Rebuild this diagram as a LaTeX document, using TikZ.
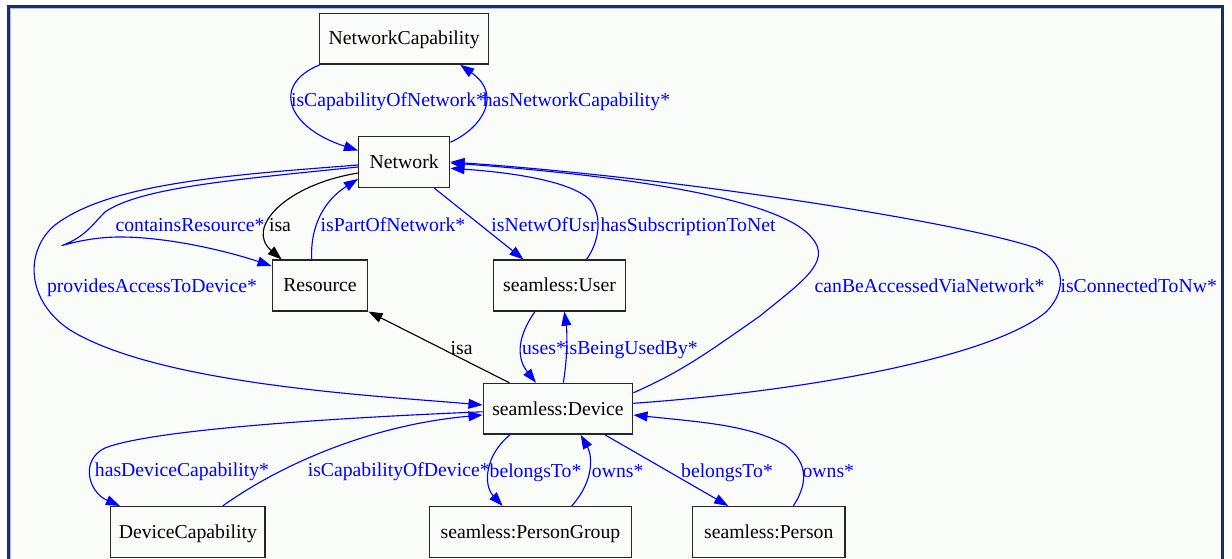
\documentclass[tikz,border=0pt]{standalone}
\usepackage{fontspec}
\setmainfont{Liberation Serif}
\usetikzlibrary{arrows.meta,calc}
\definecolor{framec}{RGB}{25,45,110}
\definecolor{bgc}{RGB}{250,252,250}
\definecolor{edgeblue}{RGB}{0,0,255}
\definecolor{innerln}{RGB}{170,190,225}
\tikzset{
  box/.style={draw=black!85, line width=1pt, inner sep=0pt, minimum height=36pt,
    text height=8.94pt, text depth=0pt, font=\fontsize{14}{16}\selectfont},
  lbl/.style={inner sep=0pt, anchor=base, font=\fontsize{14}{16}\selectfont, text=edgeblue},
  blk/.style={lbl, text=black},
  rel/.style={draw=edgeblue, line width=0.8pt, -{Triangle[length=10pt,width=7pt]}},
  isarel/.style={draw=black, line width=0.8pt, -{Triangle[length=10pt,width=7pt]}},
}
\begin{document}
\begin{tikzpicture}[x=0.71pt,y=-0.71pt]
\useasboundingbox (0,0) rectangle (1232,559);
\begin{scope}
  \clip (0,0) rectangle (1232,559);
  \fill[white] (0,0) rectangle (1232,559);
  \fill[bgc] (8.7,6.3) rectangle (1222.3,600);
  \draw[innerln, line width=0.7pt] (10.9,600) -- (10.9,8.5) -- (1220,8.5);
  \draw[framec, line width=1.9pt] (8.7,600) -- (8.7,6.3) -- (1222.3,6.3) -- (1222.3,600);
\end{scope}

% nodes
\node[box, minimum width=120pt]   (nc)  at (404.2,38.7) {NetworkCapability};
\node[box, minimum width=64.6pt]  (net) at (404.2,162)  {Network};
\node[box, minimum width=67.8pt]  (res) at (320,285.5)  {Resource};
\node[box, minimum width=94pt]    (usr) at (559.5,285.5) {seamless:User};
\node[box, minimum width=106.1pt] (dev) at (558,408.8)  {seamless:Device};
\node[box, minimum width=109.6pt] (dc)  at (187.85,532) {DeviceCapability};
\node[box, minimum width=143.6pt] (pg)  at (530.5,532)  {seamless:PersonGroup};
\node[box, minimum width=108.4pt] (per) at (768.8,532)  {seamless:Person};

% edges
\draw[rel] ($(nc.south west)+(1,0)$) .. controls (270,85) and (288,128) .. ($(net.west)+(0,-11.5)$);
\draw[rel] ($(net.north east)+(0,6.3)$) .. controls (482,128) and (503,95) .. ($(nc.south)+(56,0)$);
\draw[isarel] ($(net.west)+(0,11)$) .. controls (285,185) and (245,228) .. ($(res.north)+(-38.3,0)$);
\draw[rel] ($(res.north)+(-8.3,0)$) .. controls (310,225) and (325,200) .. ($(net.west)+(0,17)$);
\draw[rel] ($(net.south)+(30,0)$) -- ($(usr.north)+(-36,0)$);
\draw[rel] ($(usr.north)+(27,0)$) .. controls (597,245) and (604,220) .. (591,201)
  .. controls (572,180) and (505,172) .. ($(net.east)+(0,6.3)$);
\draw[rel, line join=round] ($(net.west)+(0,5)$) .. controls (230,180) and (140,188) .. (105,212)
  .. controls (92,225) and (85,237) .. (62,245.5)
  .. controls (75,242) and (95,237) .. (120,237)
  .. controls (170,237) and (230,252) .. ($(res.west)+(0,-19.5)$);
\draw[rel] ($(net.west)+(0,3)$) .. controls (230,175) and (110,183) .. (55,225)
  .. controls (25,250) and (25,300) .. (70,330)
  .. controls (160,385) and (380,396) .. ($(dev.west)+(0,-3.8)$);
\draw[rel] ($(dev.east)+(0,-16)$) .. controls (680,372) and (700,358) .. (760,316)
  .. controls (800,283) and (833,262) .. (812,238)
  .. controls (788,207) and (680,180) .. ($(net.east)+(0,1)$);
\draw[rel] ($(dev.east)+(0,-5.5)$) .. controls (820,390) and (995,355) .. (1046,312)
  .. controls (1068,290) and (1065,262) .. (1036,248)
  .. controls (960,222) and (680,178) .. (net.east);
\draw[rel] ($(dev.north)+(5.3,0)$) .. controls (568,355) and (567,330) .. ($(usr.south)+(4.8,0)$);
\draw[rel] ($(usr.south)+(-24.5,0)$) .. controls (515,340) and (518,360) .. ($(dev.north)+(-22,0)$);
\draw[isarel] ($(dev.north)+(-48.7,0)$) -- (res.south east);
\draw[rel] ($(dev.west)+(0,3)$) .. controls (330,418) and (150,430) .. (105,448)
  .. controls (80,460) and (88,492) .. ($(dc.north)+(-67.85,0)$);
\draw[rel] ($(dc.north)+(34.85,0)$) .. controls (280,465) and (370,425) .. ($(dev.west)+(0,6.2)$);
\draw[rel] ($(dev.south)+(-48,0)$) .. controls (485,455) and (483,485) .. ($(pg.north)+(-27.8,0)$);
\draw[rel] ($(pg.north)+(41.2,0)$) .. controls (595,480) and (592,455) .. ($(dev.south)+(22.7,0)$);
\draw[rel] ($(dev.south)+(47,0)$) -- ($(per.north)+(-40.5,0)$);
\draw[rel] ($(per.north)+(24.5,0)$) .. controls (805,488) and (812,465) .. (785,445)
  .. controls (750,425) and (700,422) .. ($(dev.east)+(0,6.2)$);

% labels
\node[lbl] (l1)  at (388.5,106.5) {isCapabilityOfNetwork*};
\node[lbl] (l2)  at (576.5,106.5) {hasNetworkCapability*};
\node[lbl] (l3)  at (190,231)     {containsResource*};
\node[blk] (l4)  at (280,231)     {isa};
\node[lbl] (l5)  at (393,231)     {isPartOfNetwork*};
\node[lbl] (l6)  at (544,231)     {isNetwOfUsr};
\node[lbl] (l7)  at (688,231)     {hasSubscriptionToNet};
\node[lbl] (l8)  at (152,292)     {providesAccessToDevice*};
\node[lbl] (l9)  at (929.6,292)   {canBeAccessedViaNetwork*};
\node[lbl] (l10) at (1138.7,292)  {isConnectedToNw*};
\node[blk] (l11) at (461.6,354)   {isa};
\node[lbl] (l12) at (544,354)     {uses*};
\node[lbl] (l13) at (631,354)     {isBeingUsedBy*};
\node[lbl] (l14) at (182,476.5)   {hasDeviceCapability*};
\node[lbl] (l15) at (398.7,476.5) {isCapabilityOfDevice*};
\node[lbl] (l16) at (535.5,477)   {belongsTo*};
\node[lbl] (l17) at (617.7,477)   {owns*};
\node[lbl] (l18) at (727,477)     {belongsTo*};
\node[lbl] (l19) at (828.3,477)   {owns*};
\end{tikzpicture}
\end{document}
